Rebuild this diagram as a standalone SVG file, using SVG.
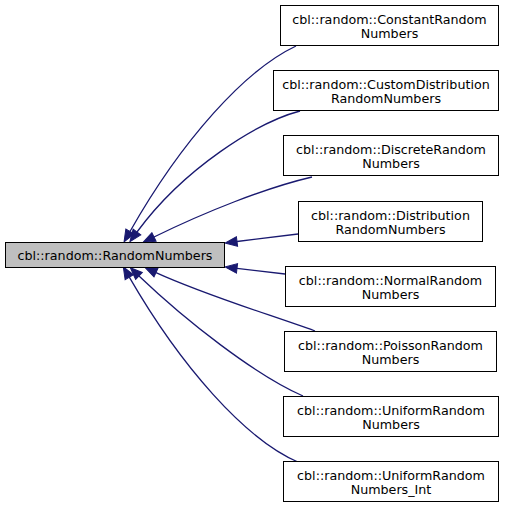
<svg xmlns="http://www.w3.org/2000/svg" width="512" height="509" viewBox="0 0 512 509">
<style>
.node rect{fill:#ffffff;stroke:#000000;stroke-width:1}
#n0 rect{fill:#bfbfbf}
text{font-family:"DejaVu Sans","Noto Sans",sans-serif;font-size:12.7px;fill:#000;text-anchor:middle}
.edge{fill:none;stroke:#191970;stroke-width:1.3;marker-end:url(#arr)}
</style>
<defs>
<marker id="arr" markerUnits="userSpaceOnUse" markerWidth="14" markerHeight="12" viewBox="0 0 14 12" refX="1" refY="6" orient="auto">
<polygon points="1,1.2 13,6 1,10.8" fill="#191970" stroke="#191970" stroke-width="1"/>
</marker>
</defs>
<rect width="512" height="509" fill="#ffffff"/>
<g id="edges">
<path class="edge" d="M296,46 C245,70 182,140 130,231.5"/>
<path class="edge" d="M300,111 C258,122 184,168 137,232"/>
<path class="edge" d="M312,177 C265,188 205,212 154,237"/>
<path class="edge" d="M298,234 L237,241.5"/>
<path class="edge" d="M285,274 L237,268.4"/>
<path class="edge" d="M315,331 C265,313 205,295 156,272.6"/>
<path class="edge" d="M303,396 C255,375 185,320 139,276"/>
<path class="edge" d="M300,463 C245,440 180,365 129.3,277.2"/>
</g>
<g id="n0" class="node"><rect x="5.5" y="242.5" width="219" height="25"/><text x="115" y="259.5">cbl::random::RandomNumbers</text></g>
<g id="n1" class="node"><rect x="280.5" y="5.5" width="218" height="40"/><text x="389.5" y="23.5">cbl::random::ConstantRandom</text><text x="389.5" y="37.5">Numbers</text></g>
<g id="n2" class="node"><rect x="273.5" y="70.5" width="225" height="40"/><text x="386" y="88.5">cbl::random::CustomDistribution</text><text x="386" y="102.5">RandomNumbers</text></g>
<g id="n3" class="node"><rect x="283.5" y="135.5" width="215" height="40"/><text x="391" y="153.5">cbl::random::DiscreteRandom</text><text x="391" y="167.5">Numbers</text></g>
<g id="n4" class="node"><rect x="298.5" y="201.5" width="184" height="40"/><text x="390.5" y="219.5">cbl::random::Distribution</text><text x="390.5" y="233.5">RandomNumbers</text></g>
<g id="n5" class="node"><rect x="285.5" y="266.5" width="210" height="40"/><text x="390.5" y="284.5">cbl::random::NormalRandom</text><text x="390.5" y="298.5">Numbers</text></g>
<g id="n6" class="node"><rect x="284.5" y="331.5" width="212" height="40"/><text x="390.5" y="349.5">cbl::random::PoissonRandom</text><text x="390.5" y="363.5">Numbers</text></g>
<g id="n7" class="node"><rect x="283.5" y="396.5" width="215" height="40"/><text x="391" y="414.5">cbl::random::UniformRandom</text><text x="391" y="428.5">Numbers</text></g>
<g id="n8" class="node"><rect x="283.5" y="461.5" width="215" height="40"/><text x="391" y="479.5">cbl::random::UniformRandom</text><text x="391" y="493.5">Numbers_Int</text></g>
</svg>
